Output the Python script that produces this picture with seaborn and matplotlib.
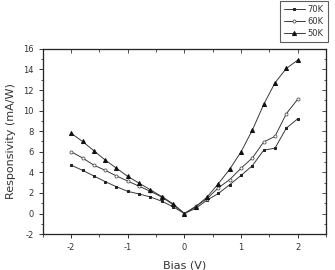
import numpy as np
import pandas as pd
import matplotlib
matplotlib.use("Agg")
import matplotlib.pyplot as plt
import seaborn as sns

bias = [-2.0, -1.8, -1.6, -1.4, -1.2, -1.0, -0.8, -0.6, -0.4, -0.2, 0.0,
        0.2, 0.4, 0.6, 0.8, 1.0, 1.2, 1.4, 1.6, 1.8, 2.0]
resp_70k = [4.7, 4.2, 3.65, 3.1, 2.6, 2.15, 1.9, 1.6, 1.2, 0.65, 0.0,
            0.5, 1.3, 1.95, 2.8, 3.7, 4.65, 6.15, 6.35, 8.3, 9.2]
resp_60k = [6.0, 5.4, 4.7, 4.2, 3.65, 3.15, 2.65, 2.15, 1.6, 0.85, 0.0,
            0.7, 1.45, 2.5, 3.3, 4.4, 5.4, 6.95, 7.5, 9.7, 11.1]
resp_50k = [7.8, 7.0, 6.1, 5.2, 4.4, 3.6, 2.95, 2.3, 1.65, 0.95, 0.0,
            0.65, 1.6, 2.9, 4.3, 6.0, 8.1, 10.6, 12.7, 14.1, 14.9]
labels = ["70K", "60K", "50K"]

df = pd.DataFrame({
    "bias": bias * 3,
    "resp": resp_70k + resp_60k + resp_50k,
    "temp": [labels[0]] * len(bias) + [labels[1]] * len(bias) + [labels[2]] * len(bias),
})

sns.set_style("ticks")
plt.rcParams["font.family"] = ["DejaVu Sans"]
txt = "#333333"

fig = plt.figure(figsize=(3.35, 2.7), dpi=100)
ax = fig.add_axes([0.128, 0.133, 0.845, 0.686])

styles = {
    "70K": dict(marker="s", markersize=1.7, markerfacecolor="#222222", markeredgecolor="#222222"),
    "60K": dict(marker="o", markersize=2.2, markerfacecolor="white", markeredgecolor="#555555", markeredgewidth=0.6),
    "50K": dict(marker="^", markersize=2.9, markerfacecolor="#111111", markeredgecolor="#111111"),
}
for lab in labels:
    sub = df[df["temp"] == lab]
    sns.lineplot(data=sub, x="bias", y="resp", ax=ax, color="#3a3a3a",
                 linewidth=0.7, label=lab, **styles[lab])

ax.set_xlim(-2.5, 2.5)
ax.set_ylim(-2, 16)
ax.set_xticks([-2, -1, 0, 1, 2])
ax.set_xticks(np.arange(-2.5, 2.51, 0.5), minor=True)
ax.set_yticks(np.arange(-2, 16.1, 2))
ax.set_yticks(np.arange(-2, 16.1, 1), minor=True)
ax.set_xticklabels(["-2", "-1", "0", "1", "2"])
ax.set_yticklabels([f"{int(v)}" for v in np.arange(-2, 16.1, 2)])
ax.tick_params(which="major", direction="out", length=3, width=0.7,
               labelsize=6, colors=txt)
ax.tick_params(which="minor", direction="out", length=1.8, width=0.6, colors=txt)
for s in ax.spines.values():
    s.set_linewidth(0.8)
    s.set_color("#555555")

# mirrored inward ticks on top and right
axt = ax.twiny()
axt.set_xlim(ax.get_xlim())
axt.set_xticks([-2, -1, 0, 1, 2])
axt.set_xticks(np.arange(-2.5, 2.51, 0.5), minor=True)
axt.tick_params(which="both", direction="in", labeltop=False, colors=txt, width=0.6)
axt.tick_params(which="major", length=3)
axt.tick_params(which="minor", length=1.8)
axr = ax.twinx()
axr.set_ylim(ax.get_ylim())
axr.set_yticks(np.arange(-2, 16.1, 2))
axr.set_yticks(np.arange(-2, 16.1, 1), minor=True)
axr.tick_params(which="both", direction="in", labelright=False, colors=txt, width=0.6)
axr.tick_params(which="major", length=3)
axr.tick_params(which="minor", length=1.8)

ax.set_xlabel("Bias (V)", fontsize=8, color=txt, labelpad=6)
ax.set_ylabel("Responsivity (mA/W)", fontsize=8, color=txt, labelpad=5)

handles, leg_labels = ax.get_legend_handles_labels()
leg = fig.legend(handles, leg_labels, loc="upper right", bbox_to_anchor=(0.978, 0.997),
                 fontsize=6, frameon=True, fancybox=False, handlelength=2.6,
                 borderpad=0.45, labelspacing=0.4, handletextpad=0.3, borderaxespad=0)
leg.get_frame().set_edgecolor("#333333")
leg.get_frame().set_linewidth(0.8)
for t in leg.get_texts():
    t.set_color(txt)
if ax.get_legend() is not None:
    ax.get_legend().remove()

fig.savefig("out.png", dpi=100)
